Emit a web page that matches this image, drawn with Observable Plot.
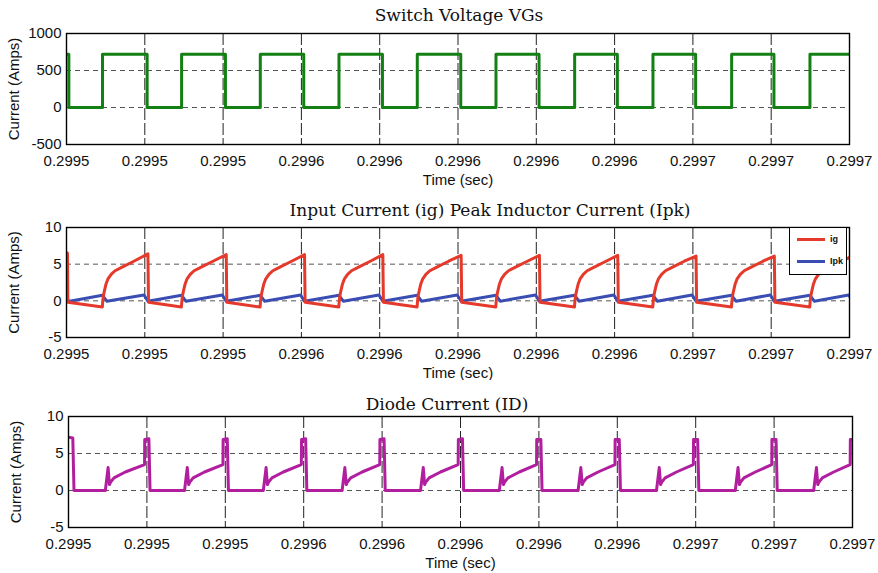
<!DOCTYPE html>
<html><head><meta charset="utf-8">
<script src="https://cdn.jsdelivr.net/npm/d3@7"></script>
<script src="https://cdn.jsdelivr.net/npm/@observablehq/plot@0.6"></script>
<style>
body{margin:0;background:#fff;}
#wrap{position:relative;width:878px;height:573px;overflow:hidden;background:#fff;}
.panel{position:absolute;left:0;}
.legend{position:absolute;border:1px solid #000;background:#fff;box-sizing:border-box;font-family:"Liberation Sans",Arial,sans-serif;font-weight:bold;font-size:9px;color:#111;}
.legend .sw{position:absolute;height:3px;}
.legend .lb{position:absolute;line-height:1;}
</style></head><body><div id="wrap"></div><script>
// ---------- axis ticks ----------
const xTicks = [0.29950,0.29952,0.29954,0.29956,0.29958,0.29960,0.29962,0.29964,0.29966,0.29968,0.29970];
const xTickLabels = ["0.2995","0.2995","0.2995","0.2996","0.2996","0.2996","0.2996","0.2996","0.2997","0.2997","0.2997"];
const yTicksVg = [-500,0,500,1000];
const yTicksI = [-5,0,5,10];
const titles = ["Switch Voltage VGs","Input Current (ig) Peak Inductor Current (Ipk)","Diode Current (ID)"];
const legendNames = ["ig","Ipk"];

// ---------- waveform readings (time in µs after 0.29950 s) ----------
const cycleGridUs = [0,20,40,60,80,100,120,140,160,180];
const vgFallUs = [0.6,20.6,40.6,60.6,80.7,100.7,120.7,140.7,160.7,180.7];
const vgRiseUs = [9.2,29.4,49.5,69.6,89.6,109.7,129.8,149.8,169.9,189.9];
const vgHigh = 720, vgLow = 0;

// input current ig
const igStartPts = [[0, 6.6], [0.25, 6.5], [0.35, -0.2]];
const igPeaks = [6.4,6.3,6.3,6.3,6.2,6.2,6.2,6.1,6.1,6.1];
const igFallDt = 0.95;           // after grid, bottom of the fall
const igAfterFall = -0.2;
const igBeforeRise = -0.85;
const igCurveDt  = [0.05,0.2,0.5,0.9,1.4,2.2,3.2,5.0,8.0];
const igCurveVal = [-0.1,0.6,1.4,2.3,3.0,3.6,4.1,4.6,5.4];
const igPeakDt = 20.8;

// peak inductor current Ipk
const ipkStart = 0.1;
const ipkLow = -0.05;
const ipkMidPeak = 0.75;
const ipkEndPeak = 0.8;

// diode current ID
const idStartPts = [[0, 7.2], [1.1, 7.1], [1.4, 0]];
const idPeaks = [7.0,7.0,7.0,7.0,7.0,6.9,6.9,6.9,6.9,6.9];
const idSpikeDt  = [0.2,0.9,1.25,1.5,2.4,5.3];
const idSpikeVal = [0.0,3.1,0.8,1.1,1.7,2.5];
const idRampEnd = 3.5;
const idJumpDt = 19.4, idTop = 6.9, idTopEndDt = 20.5, idFallDt = 20.8, idZeroDt = 0.8;

// ---------- build series ----------
const T0 = 0.29950;
const sec = us => T0 + us * 1e-6;

const vgData = [{t: sec(0), v: vgHigh}];
cycleGridUs.forEach((g, k) => {
  vgData.push({t: sec(vgFallUs[k]), v: vgHigh}, {t: sec(vgFallUs[k]), v: vgLow},
              {t: sec(vgRiseUs[k]), v: vgLow}, {t: sec(vgRiseUs[k]), v: vgHigh});
});
vgData.push({t: sec(200), v: vgHigh});

const igData = igStartPts.map(([t, v]) => ({t: sec(t), v}));
const ipkData = [{t: sec(0), v: ipkStart}];
const idData = idStartPts.map(([t, v]) => ({t: sec(t), v}));
cycleGridUs.forEach((g, k) => {
  const r = vgRiseUs[k];
  if (k > 0) igData.push({t: sec(g + igFallDt), v: igAfterFall});
  igData.push({t: sec(r - 0.05), v: igBeforeRise});
  igCurveDt.forEach((dt, j) => igData.push({t: sec(r + dt), v: igCurveVal[j]}));
  igData.push({t: sec(g + igPeakDt), v: igPeaks[k]});

  ipkData.push({t: sec(g + 0.8), v: ipkLow}, {t: sec(r), v: ipkMidPeak},
               {t: sec(r + 1.1), v: ipkLow}, {t: sec(g + 19.8), v: ipkEndPeak});

  if (k > 0) idData.push({t: sec(g + idZeroDt), v: 0});
  idSpikeDt.forEach((dt, j) => idData.push({t: sec(r + dt), v: idSpikeVal[j]}));
  idData.push({t: sec(g + idJumpDt), v: idRampEnd}, {t: sec(g + idJumpDt + 0.05), v: idTop},
              {t: sec(g + idTopEndDt), v: idPeaks[k]}, {t: sec(g + idFallDt), v: 0});
});
ipkData.push({t: sec(200.8), v: ipkLow});

// ---------- drawing ----------
const labelMap = new Map(xTicks.map((t, i) => [t, xTickLabels[i]]));
const wrap = document.getElementById("wrap");

function panel({top, height, mt, mb, ml, mr, yDomain, yTicks, grid, series}) {
  const svg = Plot.plot({
    width: 878, height, marginTop: mt, marginBottom: mb, marginLeft: ml, marginRight: mr,
    style: {fontFamily: '"Liberation Sans", Arial, sans-serif', fontSize: "15px", color: "#111", background: "transparent"},
    x: {domain: [xTicks[0], xTicks[xTicks.length - 1]]},
    y: {domain: yDomain},
    marks: [
      Plot.ruleX(xTicks.slice(1, -1), {stroke: "#222", strokeDasharray: "12,3", strokeWidth: 1}),
      Plot.ruleY(grid, {stroke: "#555", strokeDasharray: "5,4", strokeWidth: 1}),
      ...series.map(s => Plot.line(s.data, {x: "t", y: "v", stroke: s.color, strokeWidth: 3, clip: true})),
      Plot.axisX({ticks: xTicks, tickFormat: d => labelMap.get(d), tickSize: 0, tickPadding: 11, label: null}),
      Plot.axisY({ticks: yTicks, tickFormat: d => String(d), tickSize: 0, tickPadding: 5, label: null}),
      Plot.text(["Time (sec)"], {text: d => d, frameAnchor: "bottom", dy: 36, textAnchor: "middle", lineAnchor: "middle"}),
      Plot.text(["Current (Amps)"], {text: d => d, frameAnchor: "left", dx: -52, rotate: -90, textAnchor: "middle", lineAnchor: "middle"}),
      Plot.frame({stroke: "#000", strokeWidth: 1.4})
    ]
  });
  svg.classList.add("panel");
  svg.style.top = top + "px";
  wrap.appendChild(svg);
}

panel({top: 0, height: 190, mt: 33, mb: 46, ml: 66, mr: 29, yDomain: [-500, 1000], yTicks: yTicksVg,
       grid: [0, 500], series: [{data: vgData, color: "#138013"}]});
panel({top: 190, height: 190, mt: 37, mb: 43, ml: 66, mr: 29, yDomain: [-5, 10], yTicks: yTicksI,
       grid: [0, 5], series: [{data: ipkData, color: "#3a4db3"}, {data: igData, color: "#e5392c"}]});
panel({top: 380, height: 193, mt: 36, mb: 46, ml: 68, mr: 26, yDomain: [-5, 10], yTicks: yTicksI,
       grid: [0, 5], series: [{data: idData, color: "#b11f9f"}]});

// titles
const ov = d3.select(wrap).append("svg").attr("width", 878).attr("height", 573)
  .style("position", "absolute").style("left", 0).style("top", 0).style("pointer-events", "none");
const titlePos = [[459, 21], [490, 216], [447, 410]];
titles.forEach((t, i) => ov.append("text").attr("x", titlePos[i][0]).attr("y", titlePos[i][1])
  .attr("text-anchor", "middle").attr("font-family", '"DejaVu Serif", serif').attr("font-size", 17)
  .attr("fill", "#111").text(t));

// legend
const lg = document.createElement("div");
lg.className = "legend";
Object.assign(lg.style, {left: "789px", top: "227px", width: "58px", height: "48px"});
[["#e5392c", 11], ["#3a4db3", 33]].forEach(([c, y], i) => {
  const sw = document.createElement("div"); sw.className = "sw";
  Object.assign(sw.style, {left: "7px", top: (y - 1) + "px", width: "28px", background: c});
  const lb = document.createElement("div"); lb.className = "lb";
  Object.assign(lb.style, {left: "40px", top: (y - 4) + "px"});
  lb.textContent = legendNames[i];
  lg.appendChild(sw); lg.appendChild(lb);
});
wrap.appendChild(lg);
</script></body></html>
